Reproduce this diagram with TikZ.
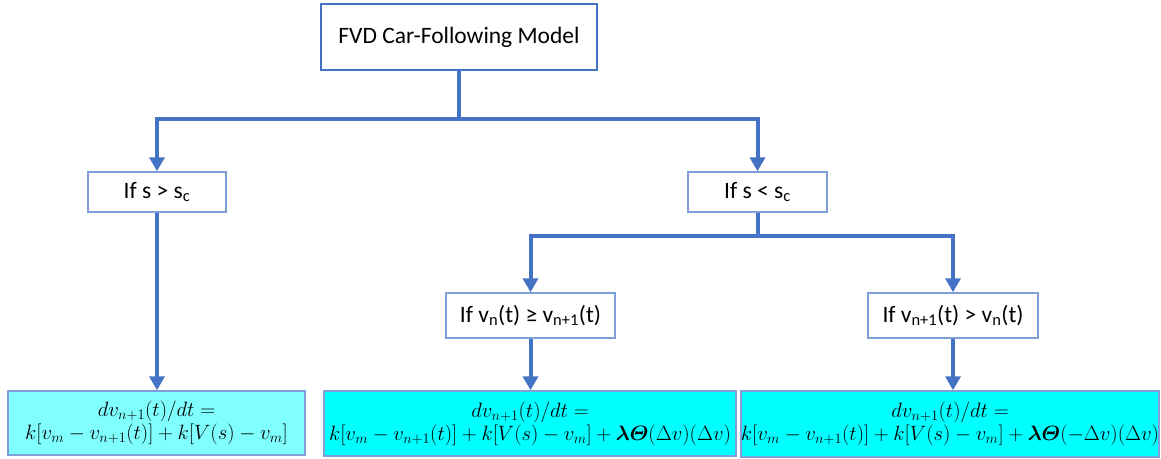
\documentclass[tikz,border=0pt]{standalone}
\usepackage{amsmath,amssymb}
\usepackage{fontspec}
\setmainfont{Carlito}
\usetikzlibrary{arrows.meta}

\definecolor{flowblue}{HTML}{4472C4}
\definecolor{edgeblue}{HTML}{7F9FD8}
\definecolor{lightcyan}{HTML}{80FFFF}
\definecolor{fullcyan}{HTML}{00FFFF}

\newcommand{\sub}[1]{\textsubscript{#1}}

\begin{document}
\begin{tikzpicture}[x=1pt,y=-1pt,
  every node/.style={font=\fontsize{23.5}{28}\selectfont, inner sep=0pt, align=center},
  titlebox/.style={draw=flowblue, line width=1.5pt, fill=white},
  testbox/.style={draw=edgeblue, line width=1.5pt, fill=white},
  eqbox/.style={draw=edgeblue, line width=1.5pt, font=\fontsize{21.5}{25}\selectfont},
  link/.style={draw=flowblue, line width=4pt},
  flow/.style={link, -{Triangle[width=15pt,length=14pt]}}
]
\useasboundingbox (0,0) rectangle (1161,458);

% decision tree boxes
\node[titlebox, minimum width=276pt, minimum height=66pt] (top) at (459,37) {FVD Car-Following Model};
\node[testbox, minimum width=138pt, minimum height=40pt] (ifgt) at (157,192) {If s > s\sub{c}};
\node[testbox, minimum width=139pt, minimum height=40pt] (iflt) at (757.5,192) {If s < s\sub{c}};
\node[testbox, minimum width=169pt, minimum height=45pt] (ifvn) at (530.5,315.5) {If v\sub{n}(t) ≥ v\sub{n+1}(t)};
\node[testbox, minimum width=170pt, minimum height=45pt] (ifvnn) at (953,315.5) {If v\sub{n+1}(t) > v\sub{n}(t)};

% model equations
\node[eqbox, fill=lightcyan, minimum width=297pt, minimum height=64pt] (eqa) at (156.5,423)
  {$dv_{n+1}(t)/dt=$\\[-2pt] $k[v_m-v_{n+1}(t)]+k[V(s)-v_m]$};
\node[eqbox, fill=fullcyan, minimum width=412pt, minimum height=65pt] (eqb) at (530,423.5)
  {$dv_{n+1}(t)/dt=$\\[-2pt] $k[v_m-v_{n+1}(t)]+k[V(s)-v_m]+\boldsymbol{\lambda\varTheta}(\Delta v)(\Delta v)$};
\node[eqbox, fill=fullcyan, minimum width=416pt, minimum height=66pt] (eqc) at (950,424)
  {$dv_{n+1}(t)/dt=$\\[-2pt] $k[v_m-v_{n+1}(t)]+k[V(s)-v_m]+\boldsymbol{\lambda\varTheta}(-\Delta v)(\Delta v)$};

% branch points
\coordinate (splitA) at (459,119);
\coordinate (splitB) at (757.5,235.5);

% connectors
\draw[link] (top.south) -- (splitA);
\draw[flow] (splitA) -| (ifgt.north);
\draw[flow] (splitA) -| (iflt.north);
\draw[flow] (ifgt.south) -- (ifgt.south |- eqa.north);
\draw[link] (iflt.south) -- (splitB);
\draw[flow] (splitB) -| (ifvn.north);
\draw[flow] (splitB) -| (ifvnn.north);
\draw[flow] (ifvn.south) -- (ifvn.south |- eqb.north);
\draw[flow] (ifvnn.south) -- (ifvnn.south |- eqc.north);
\end{tikzpicture}
\end{document}
